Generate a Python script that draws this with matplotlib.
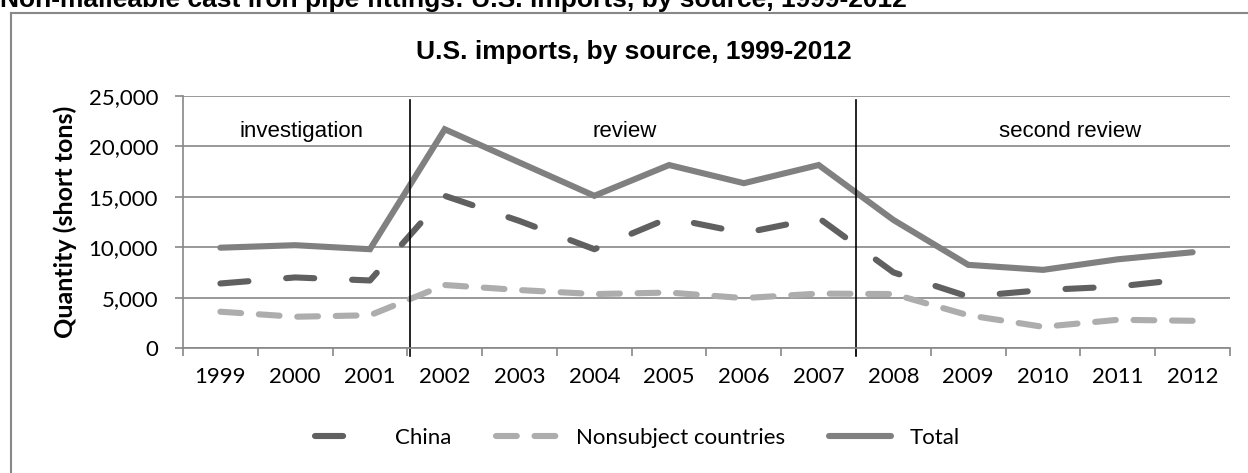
import numpy as np
import matplotlib.pyplot as plt
from matplotlib.lines import Line2D

# Datos (toneladas cortas)
years = ['1999', '2000', '2001', '2002', '2003', '2004', '2005',
         '2006', '2007', '2008', '2009', '2010', '2011', '2012']
china = [6400, 7000, 6700, 15100, 12600, 9800, 12900,
         11400, 12900, 7500, 5100, 5750, 6100, 6900]
nonsubject = [3600, 3100, 3250, 6250, 5750, 5350, 5500,
              4950, 5400, 5350, 3250, 2100, 2800, 2700]
total = [9950, 10200, 9800, 21700, 18400, 15100, 18150,
         16350, 18150, 12700, 8250, 7750, 8800, 9500]

periods = ['investigation', 'review', 'second review']
period_centers = [1.09, 5.41, 11.36]
period_breaks = [2.54, 8.5]

W, H = 1248, 473
fig = plt.figure(figsize=(W / 100, H / 100), dpi=100)
ax = fig.add_axes([183 / W, 1 - 348 / H, (1230 - 183) / W, (348 - 96) / H])

x = np.arange(len(years))
lw = 4.4
ax.plot(x, china, color='#606060', lw=lw, dashes=(4.6, 6.2),
        dash_capstyle='round', solid_capstyle='round', label='China')
ax.plot(x, nonsubject, color='#adadad', lw=lw, dashes=(3.4, 2.9),
        dash_capstyle='round', label='Nonsubject countries')
ax.plot(x, total, color='#808080', lw=lw, solid_capstyle='round',
        solid_joinstyle='miter', label='Total')

ax.set_xlim(-0.5, len(years) - 0.5)
ax.set_ylim(0, 25000)
ax.set_yticks(np.arange(0, 25001, 5000))
ax.set_yticklabels([f'{v:,}' for v in range(0, 25001, 5000)])
ax.yaxis.grid(True, color='#888888', lw=1.2)
ax.set_axisbelow(True)

# ticks entre categorías, etiquetas centradas
ax.set_xticks(np.arange(-0.5, len(years), 1.0))
ax.set_xticklabels([])
ax.set_xticks(x, minor=True)
ax.set_xticklabels(years, minor=True)
ax.tick_params(axis='x', which='major', length=6, color='#888888', width=1.2)
ax.tick_params(axis='x', which='minor', length=0, pad=14, labelsize=16)
ax.tick_params(axis='y', length=6, color='#888888', width=1.2, pad=12, labelsize=16)
for lab in ax.get_xticklabels(minor=True) + ax.get_yticklabels():
    lab.set_family('Lato')

for s in ['top', 'right']:
    ax.spines[s].set_visible(False)
for s in ['left', 'bottom']:
    ax.spines[s].set_color('#888888')
    ax.spines[s].set_linewidth(1.2)

# separadores de periodos
for b in period_breaks:
    ax.axvline(b, ymin=-0.03, ymax=0.985, color='black', lw=1.2, clip_on=False)
for p, c in zip(periods, period_centers):
    ax.text(c, 21500, p, ha='center', va='center', fontsize=16,
            family='Liberation Sans')

ax.set_ylabel('Quantity (short tons)', fontsize=18, fontweight='bold',
              family='Lato', labelpad=8)

fig.text(634 / W, 1 - 52 / H, 'U.S. imports, by source, 1999-2012',
         ha='center', va='center', fontsize=19, fontweight='bold',
         family='Liberation Sans')
fig.text(0.0, 1 - 7 / H,
         'Non-malleable cast iron pipe fittings: U.S. imports, by source, 1999-2012',
         ha='left', va='baseline', fontsize=19, fontweight='bold',
         family='Liberation Sans')

# marco del área del gráfico
fig.add_artist(Line2D([11 / W, 11 / W], [0, 1 - 13 / H], color='#888888', lw=1.5))
fig.add_artist(Line2D([11 / W, 1], [1 - 13 / H, 1 - 13 / H], color='#888888', lw=1.5))

leg = fig.legend(loc='center', bbox_to_anchor=(637 / W, 1 - 438 / H), ncol=3,
                 frameon=False, handlelength=2.8, handletextpad=0.8,
                 columnspacing=2.0, prop={'family': 'Lato', 'size': 16})

fig.savefig('out.png', dpi=100)
